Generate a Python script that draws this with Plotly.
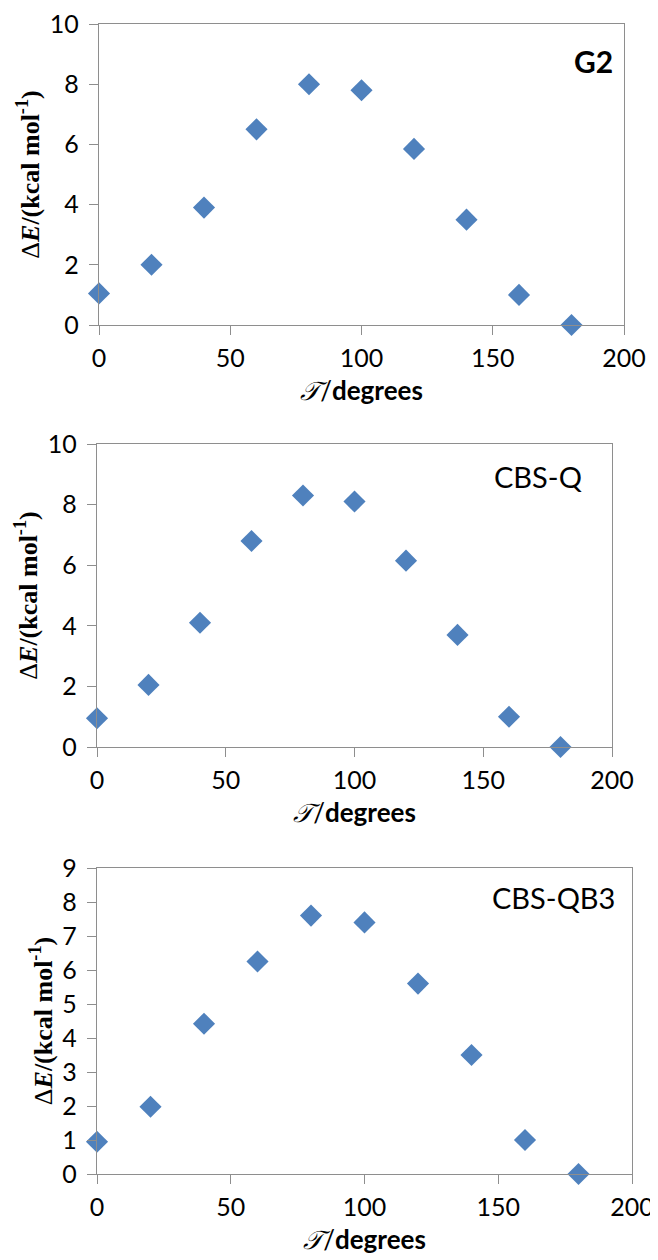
import plotly.graph_objects as go

# ---- data ----
torsion = [0, 20, 40, 60, 80, 100, 120, 140, 160, 180]
dE_G2 = [1.05, 2.0, 3.9, 6.5, 8.0, 7.8, 5.85, 3.5, 1.0, 0.0]
dE_CBSQ = [0.95, 2.05, 4.1, 6.8, 8.3, 8.1, 6.15, 3.7, 1.0, 0.0]
dE_CBSQB3 = [0.95, 1.98, 4.42, 6.25, 7.6, 7.4, 5.6, 3.5, 1.0, 0.0]
panel_labels = ["G2", "CBS-Q", "CBS-QB3"]
y_maxes = [10, 10, 9]
y_dticks = [2, 2, 1]
x_tick_vals = [0, 50, 100, 150, 200]

series = [dE_G2, dE_CBSQ, dE_CBSQB3]

OFF = 8  # page body margin
W, H = 658 - OFF, 1260 - OFF


def fx(px):
    return (px - OFF) / W


def fy(py):
    return 1 - (py - OFF) / H


# panel boxes in page pixels (left, right, top, bottom)
boxes = [(99, 624, 24, 325), (97, 612, 444, 747), (97, 632, 868, 1174)]
label_pos = [(615, 61, True), (584, 476, False), (617, 897, False)]

MARKER = "#4F81BD"
LINE = "#8E8E8E"
TICKFONT = dict(family="Lato", size=25, color="black")

fig = go.Figure()
for i, (ys, box) in enumerate(zip(series, boxes)):
    n = "" if i == 0 else str(i + 1)
    fig.add_trace(go.Scatter(
        x=torsion, y=ys, mode="markers",
        marker=dict(symbol="diamond", size=17, color=MARKER, line=dict(width=0)),
        xaxis="x" + n, yaxis="y" + n, cliponaxis=False, showlegend=False,
    ))
    l, r, t, b = box
    xa = dict(
        domain=[fx(l), fx(r)], range=[0, 200], tickvals=x_tick_vals,
        showline=True, linecolor=LINE, linewidth=1.3, mirror=True,
        ticks="outside", ticklen=9, tickcolor=LINE, tickwidth=1.3,
        showgrid=False, zeroline=False, tickfont=TICKFONT,
        ticklabelstandoff=2, ticklabeloverflow="allow",
        anchor="y" + n, automargin=False,
        title=dict(text="<i>𝒯</i>/<b>degrees</b>",
                   font=dict(family="Lato", size=26, color="black"), standoff=10),
    )
    ya = dict(
        domain=[fy(b), fy(t)], range=[0, y_maxes[i]], dtick=y_dticks[i],
        showline=True, linecolor=LINE, linewidth=1.3, mirror=True,
        ticks="outside", ticklen=9, tickcolor=LINE, tickwidth=1.3,
        showgrid=False, zeroline=False, tickfont=TICKFONT,
        ticklabelstandoff=5, ticklabeloverflow="allow",
        anchor="x" + n, automargin=False,
        title=dict(text="Δ<b><i>E</i>/(kcal mol<sup>-1</sup>)</b>",
                   font=dict(family="Liberation Serif", size=26, color="black"), standoff=2),
    )
    fig.layout["xaxis" + n] = xa
    fig.layout["yaxis" + n] = ya
    px, py, bold = label_pos[i]
    fig.add_annotation(
        x=fx(px), y=fy(py), xref="paper", yref="paper",
        xanchor="right", yanchor="middle", showarrow=False,
        text=("<b>%s</b>" % panel_labels[i]) if bold else panel_labels[i],
        font=dict(family="Lato", size=30 if bold else 29, color="black"),
    )

fig.update_layout(
    width=W, height=H, margin=dict(l=0, r=0, t=0, b=0),
    plot_bgcolor="white", paper_bgcolor="white",
)
fig.write_html("out.html")
